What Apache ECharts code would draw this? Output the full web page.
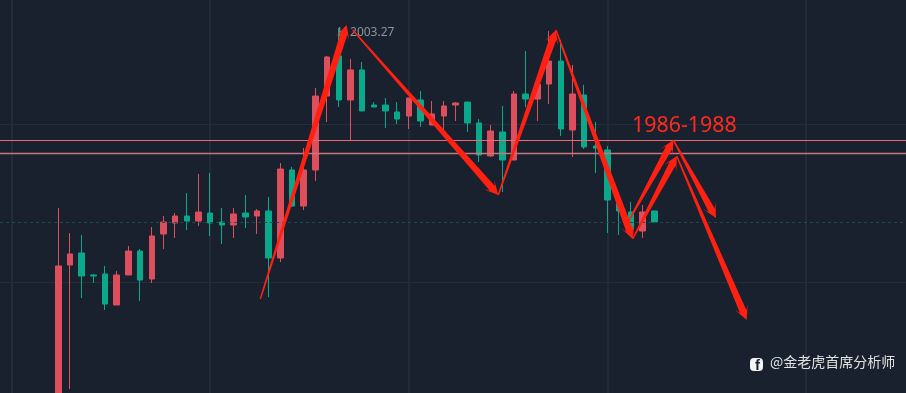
<!DOCTYPE html>
<html>
<head>
<meta charset="utf-8">
<style>html,body{margin:0;padding:0;background:#1a212e}#c{width:906px;height:393px}</style>
<script src="https://cdn.jsdelivr.net/npm/echarts@6/dist/echarts.min.js"></script>
</head>
<body>
<div id="c"></div>
<script>
const opens  = [1954.43,1972.15,1973.67,1970.89,1971.01,1967.09,1970.89,1973.92,1970.38,1976.08,1977.47,1978.35,1977.72,1978.73,1977.59,1977.22,1978.73,1978.35,1978.99,1973.04,1984.18,1979.62,1984.18,1993.54,1998.61,1993.04,1996.84,1992.40,1992.40,1991.52,1991.01,1993.04,1989.87,1991.01,1992.40,1992.78,1990.13,1985.96,1988.99,1985.44,1993.80,1993.16,1995.06,1997.97,1989.24,1993.67,1987.22,1986.71,1980.25,1978.86,1976.45,1978.99];
const closes = [1972.03,1973.55,1970.76,1970.76,1967.21,1970.89,1973.92,1970.25,1975.82,1977.59,1978.35,1977.72,1978.86,1977.47,1977.22,1978.61,1978.23,1978.99,1973.04,1984.30,1979.62,1984.18,1993.54,1998.48,1993.04,1996.84,1991.65,1992.15,1991.65,1990.63,1993.29,1990.38,1991.27,1992.28,1992.66,1990.13,1986.08,1989.11,1985.44,1993.80,1993.16,1995.06,1997.97,1989.37,1993.80,1987.09,1986.96,1980.38,1978.99,1976.71,1978.86,1977.59];
const lows   = [1954.43,1956.45,1967.97,1969.87,1966.46,1967.09,1970.89,1967.60,1969.87,1974.18,1975.57,1976.58,1977.09,1975.82,1974.81,1975.57,1976.83,1976.08,1968.10,1972.53,1979.49,1979.11,1982.79,1990.25,1992.15,1987.97,1991.65,1992.15,1989.49,1990.0,1989.37,1989.62,1989.87,1989.24,1990.38,1989.0,1985.19,1985.82,1981.39,1985.44,1992.15,1990.38,1992.53,1988.48,1985.82,1986.84,1983.80,1976.20,1975.95,1976.71,1975.57,1977.59];
const highs  = [1979.37,1976.2,1975.95,1971.01,1972.03,1971.39,1974.56,1974.18,1976.96,1978.35,1978.73,1981.27,1983.67,1983.80,1979.37,1979.37,1981.01,1979.24,1980.76,1985.06,1984.56,1986.96,1994.56,1998.61,2002.15,1998.23,1997.85,1992.78,1993.29,1992.78,1993.29,1994.18,1992.91,1992.91,1992.78,1992.78,1990.63,1989.87,1992.28,1994.18,1999.24,1995.06,2001.77,2000.63,1997.47,1994.94,1990.25,1987.22,1980.25,1980.13,1979.75,1978.99];
const levelLines = [1987.97, 1986.29];
const dottedLevel = [1977.59];
const arrowStartX = [17.29,25.19,37.65,42.59,48.78,49.15,52.63,52.92];
const arrowStartY = [1967.85,2001.90,1981.01,2001.90,1977.63,1975.44,1987.97,1985.95];
const arrowTipX   = [24.68,37.65,42.59,49.15,52.63,52.92,56.28,58.91];
const arrowTipY   = [2002.53,1981.01,2001.90,1975.44,1987.97,1985.95,1978.10,1965.19];
const highLabel = 'H 2003.27';
const zoneLabel = '1986-1988';
const watermark = '@金老虎首席分析师';

const LEAD = 6, TOTAL = 80;
const categories = Array.from({length: TOTAL}, (_, i) => String(i - LEAD));
const candles = categories.map((_, i) => {
  const k = i - LEAD;
  return (k >= 0 && k < opens.length) ? [opens[k], closes[k], lows[k], highs[k]] : ['-', '-', '-', '-'];
});
const arrows = arrowStartX.map((x, i) => [x, arrowStartY[i], arrowTipX[i], arrowTipY[i]]);

function drawArrow(params, api) {
  const s = api.coord([api.value(0), api.value(1)]);
  const t = api.coord([api.value(2), api.value(3)]);
  const dx = t[0] - s[0], dy = t[1] - s[1], L = Math.hypot(dx, dy);
  const ux = dx / L, uy = dy / L, nx = -uy, ny = ux;
  const at = (d, w) => [s[0] + ux * d + nx * w, s[1] + uy * d + ny * w];
  const pts = [at(0, 0.7), at(L - 9, 3.5), at(L - 14, 7), [t[0], t[1]], at(L - 14, -7), at(L - 9, -3.5), at(0, -0.7)];
  return {type: 'polygon', shape: {points: pts}, style: {fill: '#ff2012', stroke: null}};
}

const chart = echarts.init(document.getElementById('c'), null, {renderer: 'canvas'});
chart.setOption({
  animation: false,
  backgroundColor: '#1a212e',
  grid: {left: -11.83, top: -34, width: 923.2, height: 474, containLabel: false, outerBoundsMode: 'none'},
  xAxis: [
    {type: 'category', data: categories, boundaryGap: false,
     axisLine: {show: false}, axisTick: {show: false}, axisLabel: {show: false},
     splitLine: {show: true, interval: (idx) => (idx - 2) % 17 === 0, lineStyle: {color: '#212c38', width: 2}}},
    {type: 'value', min: -LEAD, max: TOTAL - LEAD - 1, show: false, splitLine: {show: false}}
  ],
  yAxis: {type: 'value', min: 1950, max: 2010, interval: 20, scale: true,
    axisLine: {show: false}, axisTick: {show: false}, axisLabel: {show: false},
    splitLine: {show: true, lineStyle: {color: '#232e3b', width: 1}}},
  series: [
    {type: 'candlestick', data: candles, barWidth: 6, z: 3,
     itemStyle: {color: '#dd4f5c', color0: '#0aa98b', borderColor: '#dd4f5c', borderColor0: '#0aa98b', borderWidth: 1},
     markLine: {silent: true, symbol: 'none', animation: false, label: {show: false}, z: 4,
       data: [
         {yAxis: levelLines[0], lineStyle: {color: '#ef6a6d', width: 1, type: 'solid'}},
         {yAxis: levelLines[1], lineStyle: {color: '#c5787c', width: 1.4, type: 'solid'}},
         {yAxis: dottedLevel[0], lineStyle: {color: '#1f4d4d', width: 1, type: [3, 3]}}
       ]}},
    {type: 'custom', xAxisIndex: 1, yAxisIndex: 0, z: 10, silent: true, clip: false,
     renderItem: drawArrow, data: arrows, encode: {x: [0, 2], y: [1, 3]}}
  ],
  graphic: [
    {type: 'text', z: 1, left: 338, top: 27, style: {text: highLabel, fill: '#8b939e', font: '12px "Noto Sans", sans-serif'}},
    {type: 'text', z: 20, left: 632, top: 115, style: {text: zoneLabel, fill: '#ff2a1c', font: '21.4px "Noto Sans", sans-serif'}},
    {type: 'rect', z: 20, left: 750, top: 358, shape: {width: 13, height: 13, r: 4}, style: {fill: '#f4f4f4'}},
    {type: 'text', z: 21, left: 755, top: 358, style: {text: 'f', fill: '#1a212e', font: 'bold 15px "Liberation Sans", sans-serif'}},
    {type: 'text', z: 20, left: 770, top: 355, style: {text: watermark, fill: '#e2e2e2', font: '14px "Noto Sans CJK SC", sans-serif'}}
  ]
});
</script>
</body>
</html>
